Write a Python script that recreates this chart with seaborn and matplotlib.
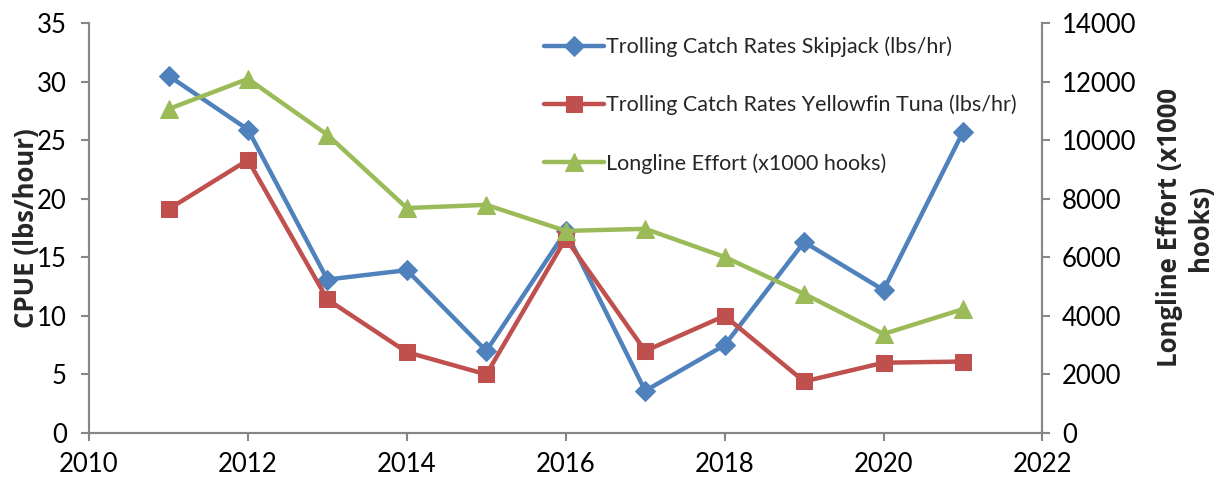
import pandas as pd
import seaborn as sns
import matplotlib.pyplot as plt

years = [2011, 2012, 2013, 2014, 2015, 2016, 2017, 2018, 2019, 2020, 2021]
skipjack = [30.5, 25.9, 13.1, 13.9, 7.0, 17.2, 3.6, 7.5, 16.3, 12.2, 25.7]
yellowfin = [19.1, 23.3, 11.4, 6.9, 5.0, 16.6, 7.0, 10.0, 4.4, 6.0, 6.1]
longline = [11060, 12090, 10180, 7680, 7790, 6900, 6970, 6010, 4750, 3380, 4230]

lab_skj = 'Trolling Catch Rates Skipjack (lbs/hr)'
lab_yft = 'Trolling Catch Rates Yellowfin Tuna (lbs/hr)'
lab_ll = 'Longline Effort (x1000 hooks)'

df = pd.DataFrame({'year': years, 'skj': skipjack, 'yft': yellowfin, 'll': longline})

sns.set_style('white')
plt.rcParams['font.family'] = ['Lato', 'DejaVu Sans']
grey = '#868686'

fig = plt.figure(figsize=(12.25, 4.88), dpi=100)
ax = fig.add_axes([0.0727, 0.1127, 0.7783, 0.8403])
ax2 = ax.twinx()

lw = 3.2
sns.lineplot(data=df, x='year', y='skj', ax=ax, color='#4F81BD', lw=lw, marker='D',
             markersize=10, markeredgecolor='#4F81BD', label=lab_skj, legend=False)
sns.lineplot(data=df, x='year', y='yft', ax=ax, color='#C0504D', lw=lw, marker='s',
             markersize=12, markeredgecolor='#C0504D', label=lab_yft, legend=False)
sns.lineplot(data=df, x='year', y='ll', ax=ax2, color='#9BBB59', lw=lw, marker='^',
             markersize=13, markeredgecolor='#9BBB59', label=lab_ll, legend=False)

ax.set_xlim(2010, 2022)
ax.set_ylim(0, 35)
ax2.set_ylim(0, 14000)
ax.set_xticks(range(2010, 2023, 2))
ax.set_yticks(range(0, 36, 5))
ax2.set_yticks(range(0, 14001, 2000))

for a in (ax, ax2):
    a.spines['top'].set_visible(False)
    for s in ('left', 'right', 'bottom'):
        a.spines[s].set_color(grey)
        a.spines[s].set_linewidth(1.5)
    a.tick_params(axis='both', labelsize=18.5, colors=grey, labelcolor='black',
                  length=6, width=1.5, direction='out')
ax.tick_params(axis='y', left=True, pad=10)
ax.tick_params(axis='x', bottom=True, pad=8)
ax2.tick_params(axis='y', right=True, pad=8)

lab_font = {'family': ['Open Sans', 'DejaVu Sans'], 'size': 18.5, 'weight': 'bold'}
ax.set_xlabel('')
ax.set_ylabel('CPUE (lbs/hour)', fontdict=lab_font, labelpad=-2)
ax2.set_ylabel('Longline Effort (x1000\nhooks)', fontdict=lab_font, labelpad=14)

h1, l1 = ax.get_legend_handles_labels()
h2, l2 = ax2.get_legend_handles_labels()
fig.legend(h1 + h2, l1 + l2, loc='upper left', bbox_to_anchor=(0.428, 0.965),
           frameon=False, fontsize=15.5, labelspacing=1.75, handlelength=2.8,
           handletextpad=0.1)

fig.savefig('out.png', dpi=100)
